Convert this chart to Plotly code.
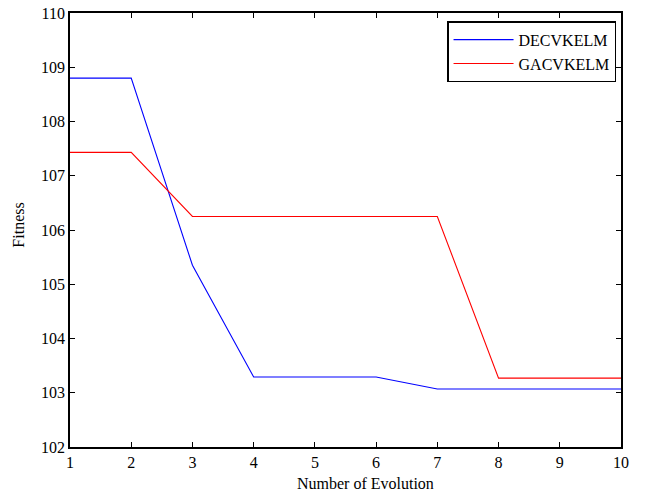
import plotly.graph_objects as go

evolution = [1, 2, 3, 4, 5, 6, 7, 8, 9, 10]
decvkelm = [108.80, 108.80, 105.35, 103.29, 103.29, 103.29, 103.07, 103.07, 103.07, 103.07]
gacvkelm = [107.43, 107.43, 106.25, 106.25, 106.25, 106.25, 106.25, 103.27, 103.27, 103.27]
y_ticks = [102, 103, 104, 105, 106, 107, 108, 109, 110]

font = "Liberation Serif, Times New Roman, serif"

fig = go.Figure()
fig.add_trace(go.Scatter(x=evolution, y=decvkelm, mode="lines", name="DECVKELM",
                         line=dict(color="#0000ff", width=1.1)))
fig.add_trace(go.Scatter(x=evolution, y=gacvkelm, mode="lines", name="GACVKELM",
                         line=dict(color="#ff0000", width=1.1)))

axis_common = dict(showline=True, linecolor="black", linewidth=1.6, mirror="ticks",
                   ticks="inside", ticklen=5, tickcolor="black", tickwidth=1.2,
                   showgrid=False, zeroline=False, automargin=False,
                   tickfont=dict(family=font, size=16, color="black"))

fig.update_layout(
    width=647, height=495,
    margin=dict(l=70, r=26, t=13, b=48),
    paper_bgcolor="white", plot_bgcolor="white",
    font=dict(family=font, size=16, color="black"),
    xaxis=dict(range=[1, 10], tickvals=evolution, **axis_common),
    yaxis=dict(range=[102, 110], tickvals=y_ticks, **axis_common),
    legend=dict(x=0.991, y=0.981, xanchor="right", yanchor="top",
                bordercolor="black", borderwidth=1.5, bgcolor="white",
                font=dict(family=font, size=16), tracegroupgap=0, itemwidth=60),
    showlegend=True,
    annotations=[
        dict(text="Number of Evolution", xref="paper", yref="paper", x=0.5354, y=0,
             yshift=-36, xanchor="center", yanchor="middle", showarrow=False,
             font=dict(family=font, size=16, color="black")),
        dict(text="Fitness", xref="paper", yref="paper", x=0, y=0.51,
             xshift=-51, xanchor="center", yanchor="middle", textangle=-90, showarrow=False,
             font=dict(family=font, size=16, color="black")),
    ],
)

fig.write_html("out.html", config={"displayModeBar": False},
               post_script="document.body.style.margin='0';")
